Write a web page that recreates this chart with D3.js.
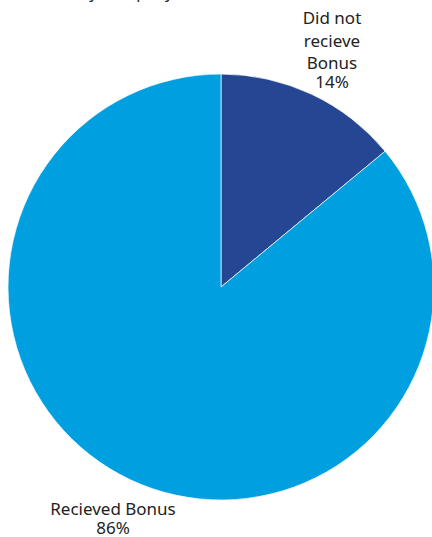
<!DOCTYPE html>
<html>
<head>
<meta charset="utf-8">
<script src="https://cdn.jsdelivr.net/npm/d3@7"></script>
<style>
 body{margin:0;background:#fff;}
 svg{display:block;font-family:"Noto Sans",sans-serif;}
</style>
</head>
<body>
<div id="chart"></div>
<script>
// data
var categories = ["Did not recieve Bonus", "Recieved Bonus"];
var values = [14, 86];
var labelLines = [["Did not", "recieve", "Bonus", "14%"], ["Recieved Bonus", "86%"]];
var colors = ["#254793", "#009fe0"];

var width = 432, height = 537;
var cx = 221, cy = 287, radius = 213;

var svg = d3.select('#chart')
  .append("svg")
  .attr("width", width)
  .attr("height", height);

// cut-off title at the very top (only descenders visible)
svg.append("text")
  .attr("x", 28)
  .attr("y", -2.5)
  .attr("font-size", 16)
  .attr("fill", "#222")
  .text("Bonus by Company");

var pie = d3.pie().sort(null).value(function(d){ return d; });
var arc = d3.arc().innerRadius(0).outerRadius(radius);
var arcs = pie(values);

var g = svg.append("g").attr("transform", "translate(" + cx + "," + cy + ")");

g.selectAll("path")
  .data(arcs)
  .enter().append("path")
  .attr("d", arc)
  .attr("fill", function(d, i){ return colors[i]; })
  .attr("stroke", "#fff")
  .attr("stroke-width", 0.7);

// label anchors (outside the pie): x, baselines
var labelX = [332, 113];
var labelY = [[24, 46.5, 69, 87.5], [515, 534]];

labelLines.forEach(function(lines, i){
  var t = svg.append("text")
    .attr("text-anchor", "middle")
    .attr("font-size", 17)
    .attr("fill", "#222");
  lines.forEach(function(s, j){
    t.append("tspan")
      .attr("x", labelX[i])
      .attr("y", labelY[i][j])
      .text(s);
  });
});
</script>
</body>
</html>
